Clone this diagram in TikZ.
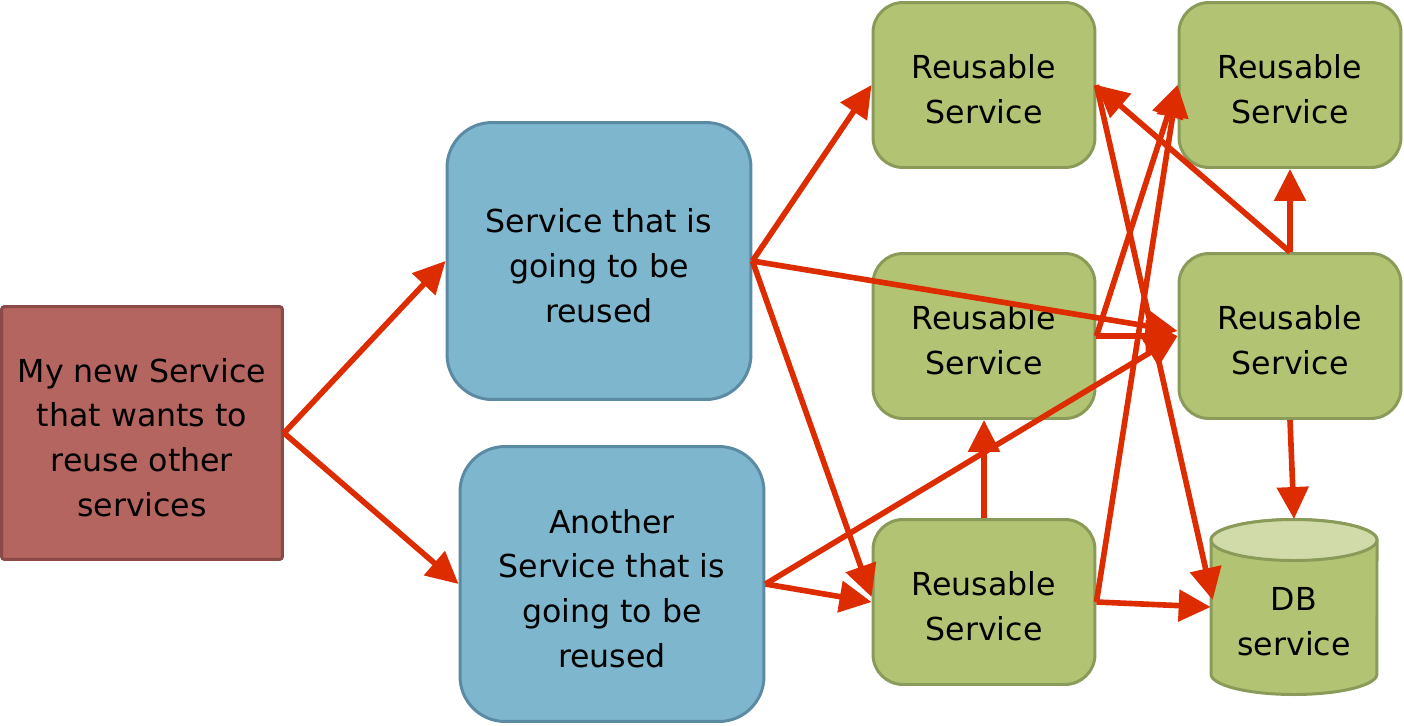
\documentclass[tikz,border=0pt]{standalone}
\usepackage{fontspec}
\setmainfont{DejaVu Sans}
\usetikzlibrary{arrows.meta,calc}
\definecolor{redfill}{HTML}{B4655F}
\definecolor{redline}{HTML}{8C4A46}
\definecolor{bluefill}{HTML}{7EB6CD}
\definecolor{blueline}{HTML}{5B8AA3}
\definecolor{greenfill}{HTML}{B2C373}
\definecolor{greenline}{HTML}{8A9A58}
\definecolor{dbtopfill}{HTML}{D1DBA9}
\definecolor{arrowred}{HTML}{DD2C00}
\begin{document}
\begin{tikzpicture}[x=0.02cm,y=-0.02cm,
 lbl/.style={align=center,font=\fontsize{18}{25.5}\selectfont,text=black,yshift=-2.6pt},
 txt/.style={label={[lbl]center:#1}},
 mine/.style={draw=redline,fill=redfill,line width=1.7pt,rounded corners=0.06cm,minimum width=5.62cm,minimum height=5.06cm},
 reused/.style={draw=blueline,fill=bluefill,line width=1.7pt,rounded corners=0.9cm,minimum width=6.08cm,minimum height=5.5cm},
 reusable/.style={draw=greenline,fill=greenfill,line width=1.7pt,rounded corners=0.6cm,minimum width=4.44cm,minimum height=3.3cm},
 link/.style={draw=arrowred,line width=3.2pt,-{Triangle[length=0.64cm,width=0.62cm]}}]
\useasboundingbox (0,0) rectangle (1404,725);
% nodes
\node[mine,txt={My new Service\\that wants to\\reuse other\\services}] (me) at (142,433) {};
\node[reused,minimum height=5.54cm,txt={Service that is\\going to be\\reused}] (b1) at (599,261) {};
\node[reused,txt={Another\\Service that is\\going to be\\reused}] (b2) at (612,584) {};
\node[reusable,txt={Reusable\\Service}] (r1) at (984,85) {};
\node[reusable,txt={Reusable\\Service}] (r2) at (1290,85) {};
\node[reusable,txt={Reusable\\Service}] (r3) at (984,336) {};
\node[reusable,txt={Reusable\\Service}] (r4) at (1290,336) {};
\node[reusable,txt={Reusable\\Service}] (r5) at (984,602) {};
% database cylinder
\draw[draw=greenline,fill=greenfill,line width=1.7pt] (1211,540) -- (1211,674)
  arc[start angle=180,end angle=360,x radius=1.66cm,y radius=0.41cm] -- (1377,540)
  arc[start angle=0,end angle=180,x radius=1.66cm,y radius=0.41cm] -- cycle;
\draw[draw=greenline,fill=dbtopfill,line width=1.7pt] (1294,540) ellipse [x radius=1.66cm,y radius=0.41cm];
\node[minimum width=3.32cm,minimum height=2.7cm,txt={DB\\service}] (db) at (1294,617) {};
\coordinate (dbtop) at (1294,519);
% connectors
\draw[link] (me.east) -- (b1.west);
\draw[link] (me.east) -- (b2.west);
\draw[link] (b1.east) -- (r1.west);
\draw[link] (b1.east) -- ($(r4.west)+(0,-5)$);
\draw[link] (b1.east) -- ($(r5.west)+(0,-5)$);
\draw[link] (b2.east) -- (r5.west);
\draw[link] (b2.east) -- (r4.west);
\draw[link] (r5.north) -- (r3.south);
\draw[link] (r5.east) -- ($(db.west)+(0,-10)$);
\draw[link] (r5.east) -- (r2.west);
\draw[link] (r3.east) -- (r2.west);
\draw[link] (r3.east) -- (r4.west);
\draw[link] (r1.east) -- ($(db.west)+(2,-17)$);
\draw[link] (r4.north) -- (r2.south);
\draw[link] (r4.north) -- (r1.east);
\draw[link] (r4.south) -- (dbtop);
\end{tikzpicture}
\end{document}
